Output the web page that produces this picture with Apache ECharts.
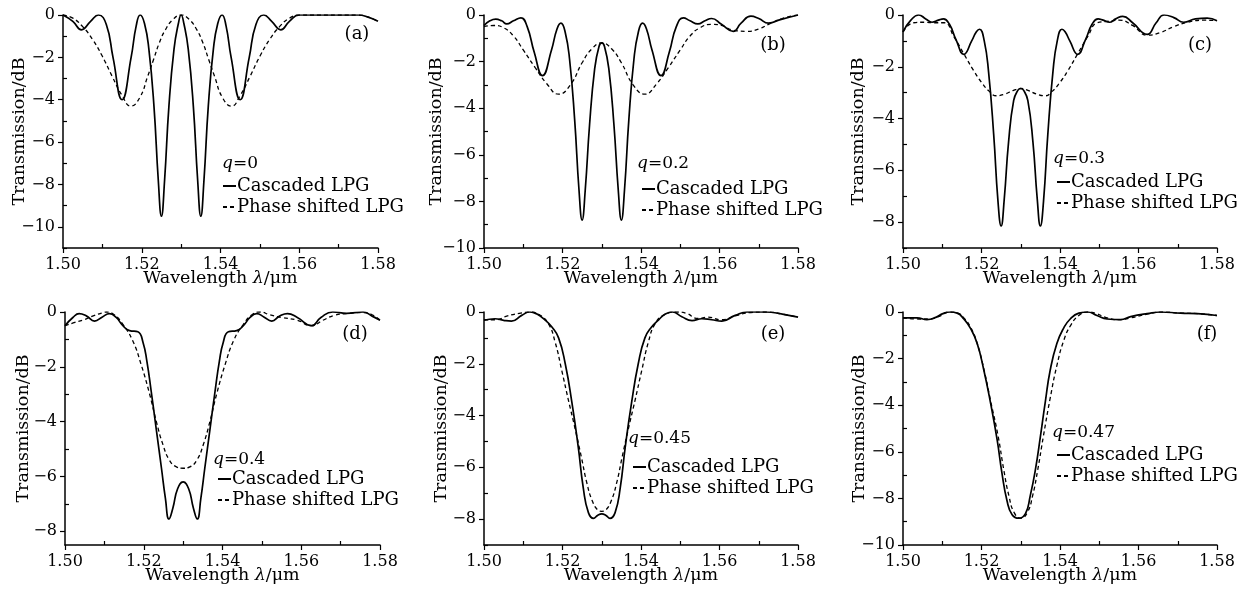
<!DOCTYPE html>
<html><head><meta charset="utf-8">
<script src="https://cdn.jsdelivr.net/npm/echarts@6/dist/echarts.min.js"></script>
<style>html,body{margin:0;padding:0;background:#fff}#c{width:1245px;height:597px}</style>
</head><body><div id="c"></div>
<script>
// ---------- data ----------
const xTicks = [1.50, 1.52, 1.54, 1.56, 1.58];
const xMinorTicks = [1.51, 1.53, 1.55, 1.57];
const panelLabels = ['(a)', '(b)', '(c)', '(d)', '(e)', '(f)'];
const qValues = ['0', '0.2', '0.3', '0.4', '0.45', '0.47'];
const yMins = [-11, -10, -9, -8.5, -9, -10];
const seriesNames = ['Cascaded LPG', 'Phase shifted LPG'];

const aCascaded = [[1.500,0],[1.5025,-0.3],[1.5047,-0.7],[1.507,-0.3],[1.509,0],[1.511,-0.45],[1.5127,-2.0],[1.515,-4.0],[1.5173,-2.0],[1.5186,-0.5],[1.5196,0],[1.5207,-0.4],[1.5218,-1.6],[1.5231,-4.3],[1.5242,-7.8],[1.525,-9.5],[1.5258,-7.8],[1.5269,-4.3],[1.5282,-1.6],[1.5293,-0.4],[1.530,0],[1.5307,-0.4],[1.5318,-1.6],[1.5331,-4.3],[1.5342,-7.8],[1.535,-9.5],[1.5358,-7.8],[1.5369,-4.3],[1.5382,-1.6],[1.5393,-0.4],[1.5404,0],[1.5414,-0.5],[1.5427,-2.0],[1.545,-4.0],[1.5473,-2.0],[1.549,-0.45],[1.551,0],[1.553,-0.3],[1.5553,-0.7],[1.5575,-0.3],[1.560,0],[1.565,0],[1.570,0],[1.575,0],[1.5775,-0.1],[1.580,-0.3]];
const aPhase = [[1.500,0],[1.5025,-0.15],[1.505,-0.55],[1.5075,-1.15],[1.510,-1.95],[1.5125,-2.9],[1.515,-3.8],[1.5172,-4.3],[1.5195,-3.9],[1.5215,-2.9],[1.523,-2.1],[1.5245,-1.3],[1.526,-0.7],[1.528,-0.2],[1.530,0],[1.532,-0.2],[1.534,-0.7],[1.5355,-1.3],[1.537,-2.1],[1.5385,-2.9],[1.5405,-3.9],[1.5428,-4.3],[1.545,-3.8],[1.5475,-2.9],[1.550,-1.95],[1.5525,-1.15],[1.555,-0.55],[1.5575,-0.15],[1.560,0],[1.575,0],[1.5775,-0.1],[1.580,-0.3]];

const bCascaded = [[1.500,-0.45],[1.5015,-0.25],[1.503,-0.18],[1.5045,-0.25],[1.5058,-0.38],[1.5075,-0.25],[1.5094,-0.12],[1.511,-0.5],[1.5128,-1.6],[1.5149,-2.6],[1.5172,-1.5],[1.5186,-0.6],[1.5196,-0.35],[1.5207,-0.75],[1.5218,-1.9],[1.5231,-4.5],[1.5242,-7.5],[1.525,-8.8],[1.5258,-7.5],[1.5269,-4.7],[1.5282,-2.3],[1.5293,-1.35],[1.530,-1.2],[1.5307,-1.35],[1.5318,-2.3],[1.5331,-4.7],[1.5342,-7.5],[1.535,-8.8],[1.5358,-7.5],[1.5369,-4.5],[1.5382,-1.9],[1.5393,-0.75],[1.5404,-0.35],[1.5414,-0.6],[1.5428,-1.5],[1.5451,-2.6],[1.5472,-1.6],[1.549,-0.5],[1.5508,-0.12],[1.5525,-0.25],[1.5545,-0.38],[1.5563,-0.25],[1.558,-0.15],[1.5605,-0.4],[1.5635,-0.7],[1.5655,-0.35],[1.568,-0.05],[1.570,-0.15],[1.5725,-0.35],[1.5755,-0.2],[1.580,0]];
const bPhase = [[1.500,-0.5],[1.5025,-0.45],[1.505,-0.55],[1.5075,-0.9],[1.510,-1.5],[1.513,-2.25],[1.516,-2.95],[1.519,-3.4],[1.522,-3.0],[1.525,-2.05],[1.5275,-1.45],[1.530,-1.2],[1.5325,-1.45],[1.535,-2.05],[1.538,-3.0],[1.541,-3.4],[1.544,-2.95],[1.547,-2.25],[1.550,-1.5],[1.5525,-0.9],[1.555,-0.55],[1.558,-0.4],[1.5605,-0.45],[1.5635,-0.65],[1.567,-0.7],[1.570,-0.6],[1.5725,-0.4],[1.576,-0.15],[1.580,0]];

const cCascaded = [[1.500,-0.65],[1.502,-0.2],[1.504,0],[1.5058,-0.15],[1.5074,-0.28],[1.509,-0.2],[1.5103,-0.15],[1.5118,-0.35],[1.5135,-0.95],[1.5155,-1.52],[1.5175,-1.0],[1.5187,-0.65],[1.5195,-0.55],[1.5207,-1.0],[1.5218,-2.2],[1.5231,-4.6],[1.5242,-7.2],[1.525,-8.15],[1.5258,-7.1],[1.5269,-4.9],[1.5282,-3.3],[1.5293,-2.9],[1.530,-2.84],[1.5307,-2.9],[1.5318,-3.3],[1.5331,-4.9],[1.5342,-7.1],[1.535,-8.15],[1.5358,-7.2],[1.5369,-4.6],[1.5382,-2.2],[1.5393,-1.0],[1.5405,-0.55],[1.5413,-0.65],[1.5425,-1.0],[1.5445,-1.52],[1.5465,-0.95],[1.5482,-0.35],[1.5497,-0.15],[1.551,-0.2],[1.5526,-0.28],[1.5542,-0.15],[1.556,-0.05],[1.5585,-0.3],[1.5622,-0.75],[1.5645,-0.3],[1.5665,0],[1.569,-0.1],[1.5715,-0.28],[1.5745,-0.15],[1.5775,-0.12],[1.580,-0.22]];
const cPhase = [[1.500,-0.65],[1.5027,-0.3],[1.5055,-0.28],[1.508,-0.3],[1.5105,-0.3],[1.513,-0.85],[1.5155,-1.5],[1.518,-2.15],[1.520,-2.6],[1.522,-2.95],[1.5238,-3.12],[1.526,-3.05],[1.528,-2.92],[1.530,-2.84],[1.532,-2.92],[1.534,-3.05],[1.5362,-3.12],[1.538,-2.95],[1.540,-2.6],[1.542,-2.15],[1.5445,-1.5],[1.547,-0.85],[1.5495,-0.3],[1.552,-0.25],[1.555,-0.2],[1.5585,-0.4],[1.5622,-0.78],[1.5655,-0.68],[1.569,-0.45],[1.5725,-0.28],[1.5765,-0.2],[1.580,-0.22]];

const dCascaded = [[1.500,-0.5],[1.502,-0.2],[1.5036,-0.06],[1.5055,-0.15],[1.5075,-0.33],[1.5095,-0.18],[1.5113,-0.06],[1.513,-0.2],[1.5147,-0.5],[1.5164,-0.68],[1.5185,-0.72],[1.5198,-1.1],[1.5208,-1.8],[1.5219,-2.9],[1.5232,-4.3],[1.5245,-5.7],[1.5255,-6.8],[1.5264,-7.55],[1.5274,-7.15],[1.5286,-6.45],[1.530,-6.2],[1.5314,-6.45],[1.5326,-7.15],[1.5336,-7.55],[1.5345,-6.8],[1.5355,-5.7],[1.5368,-4.3],[1.5381,-2.9],[1.5392,-1.8],[1.5402,-1.1],[1.5415,-0.72],[1.5436,-0.68],[1.5453,-0.5],[1.547,-0.2],[1.5487,-0.06],[1.5505,-0.18],[1.5525,-0.33],[1.5545,-0.15],[1.5565,-0.06],[1.559,-0.2],[1.5626,-0.5],[1.565,-0.2],[1.568,0],[1.5715,-0.05],[1.5757,0],[1.578,-0.15],[1.580,-0.3]];
const dPhase = [[1.500,-0.5],[1.5025,-0.38],[1.5045,-0.3],[1.507,-0.15],[1.5095,-0.03],[1.5105,0],[1.5125,-0.1],[1.5147,-0.45],[1.5172,-1.05],[1.5193,-1.9],[1.5215,-3.0],[1.5232,-4.0],[1.5249,-4.85],[1.5265,-5.4],[1.5283,-5.65],[1.530,-5.7],[1.5317,-5.65],[1.5335,-5.4],[1.5351,-4.85],[1.5368,-4.0],[1.5385,-3.0],[1.5407,-1.9],[1.5428,-1.05],[1.5453,-0.45],[1.5475,-0.1],[1.5495,0],[1.552,-0.1],[1.555,-0.2],[1.559,-0.3],[1.5626,-0.5],[1.5655,-0.3],[1.5685,-0.12],[1.572,-0.05],[1.5757,-0.02],[1.578,-0.1],[1.580,-0.3]];

const eCascaded = [[1.500,-0.32],[1.5028,-0.26],[1.505,-0.32],[1.507,-0.35],[1.5096,-0.13],[1.5117,0],[1.5135,-0.08],[1.5155,-0.3],[1.5173,-0.58],[1.519,-1.0],[1.5207,-2.0],[1.5224,-3.5],[1.524,-5.2],[1.5253,-6.8],[1.5266,-7.75],[1.5279,-7.97],[1.529,-7.85],[1.530,-7.8],[1.531,-7.85],[1.5321,-7.97],[1.5334,-7.75],[1.5347,-6.8],[1.536,-5.2],[1.5376,-3.5],[1.5393,-2.0],[1.541,-1.0],[1.5427,-0.58],[1.5445,-0.3],[1.5462,-0.08],[1.548,0],[1.5504,-0.18],[1.553,-0.33],[1.5555,-0.26],[1.558,-0.3],[1.5606,-0.35],[1.564,-0.13],[1.567,0],[1.5717,0],[1.576,-0.08],[1.580,-0.2]];
const ePhase = [[1.500,-0.3],[1.503,-0.3],[1.506,-0.15],[1.509,-0.05],[1.5117,0],[1.514,-0.1],[1.5164,-0.45],[1.5181,-1.15],[1.5198,-2.25],[1.5215,-3.4],[1.5232,-4.5],[1.5248,-5.6],[1.5262,-6.6],[1.5276,-7.3],[1.529,-7.65],[1.530,-7.7],[1.531,-7.65],[1.5324,-7.3],[1.5338,-6.6],[1.5352,-5.6],[1.5368,-4.5],[1.5385,-3.4],[1.5402,-2.25],[1.5419,-1.15],[1.5436,-0.45],[1.546,-0.1],[1.549,0],[1.5515,-0.05],[1.5545,-0.25],[1.557,-0.2],[1.5605,-0.3],[1.564,-0.15],[1.568,-0.02],[1.572,0],[1.576,-0.08],[1.580,-0.2]];

const fCascaded = [[1.500,-0.25],[1.5036,-0.25],[1.5061,-0.33],[1.5085,-0.22],[1.510,-0.08],[1.512,0],[1.5138,-0.05],[1.5155,-0.3],[1.5172,-0.7],[1.5189,-1.35],[1.5206,-2.5],[1.5223,-3.9],[1.524,-5.5],[1.5252,-6.9],[1.5265,-8.1],[1.5278,-8.7],[1.5295,-8.85],[1.5312,-8.65],[1.5324,-7.9],[1.5337,-6.8],[1.535,-5.35],[1.5363,-3.8],[1.5375,-2.5],[1.5392,-1.35],[1.5409,-0.7],[1.5426,-0.3],[1.5448,-0.05],[1.547,0],[1.5494,-0.15],[1.552,-0.3],[1.5554,-0.33],[1.558,-0.2],[1.5622,-0.07],[1.5656,0],[1.5707,-0.05],[1.575,-0.07],[1.580,-0.15]];
const fPhase = [[1.500,-0.25],[1.504,-0.3],[1.507,-0.3],[1.509,-0.2],[1.512,0],[1.514,-0.05],[1.5155,-0.25],[1.5172,-0.65],[1.5189,-1.35],[1.5206,-2.45],[1.5223,-3.8],[1.5242,-5.3],[1.5257,-6.8],[1.527,-7.9],[1.5283,-8.6],[1.530,-8.85],[1.5317,-8.6],[1.533,-7.9],[1.5343,-6.8],[1.5358,-5.3],[1.5375,-3.7],[1.5392,-2.3],[1.541,-1.2],[1.5428,-0.55],[1.5448,-0.15],[1.547,0],[1.549,-0.05],[1.552,-0.25],[1.555,-0.33],[1.558,-0.25],[1.562,-0.1],[1.566,0],[1.571,-0.05],[1.575,-0.07],[1.580,-0.15]];

const cascadedData = [aCascaded, bCascaded, cCascaded, dCascaded, eCascaded, fCascaded];
const phaseData = [aPhase, bPhase, cPhase, dPhase, ePhase, fPhase];

// ---------- layout ----------
const FONT = 'DejaVu Serif';
const grids = [
  {left: 63, top: 15, width: 315, height: 233},
  {left: 484, top: 15, width: 314, height: 233},
  {left: 903, top: 15, width: 314, height: 233},
  {left: 65, top: 312, width: 315, height: 233},
  {left: 484, top: 312, width: 314, height: 233},
  {left: 903, top: 312, width: 314, height: 233}
];
const yNameGaps = [35, 39, 36, 33, 34, 35];
const qPos = [[222,165],[637,165],[1053,160],[213,461],[628,440],[1052,434]];
const legPos = [[222,176],[641,179],[1056,172],[217,469],[632,457],[1056,445]];
const labelPos = [[357,34],[773,45],[1200,45],[355,334],[773,334],[1207,334]];

const fmtY = v => (v < 0 ? '\u2212' : '') + Math.abs(v);
const xAxes = [], yAxes = [], series = [], legends = [], graphics = [];

grids.forEach((g, i) => {
  const yMin = yMins[i];
  const yMajor = [], yMinor = [];
  for (let v = 0; v >= yMin; v -= 1) { (Math.abs(v) % 2 === 0 ? yMajor : yMinor).push(v); }
  xAxes.push({
    gridIndex: i, type: 'value', min: 1.50, max: 1.58, position: 'bottom',
    axisLine: {show: true, onZero: false, lineStyle: {color: '#000', width: 1.5}},
    axisTick: {show: true, inside: false, length: 5, customValues: xTicks, lineStyle: {color: '#000', width: 1.2}},
    axisLabel: {show: true, customValues: xTicks, formatter: v => v.toFixed(2), color: '#000', fontFamily: FONT, fontSize: 16, margin: 9},
    splitLine: {show: false},
    name: '{n|Wavelength }{i|\u03bb}{n|/\u03bcm}', nameLocation: 'middle', nameGap: 21, nameMoveOverlap: false,
    nameTextStyle: {color: '#000', fontFamily: FONT, fontSize: 17.5,
      rich: {n: {fontFamily: FONT, fontSize: 17.5, color: '#000'}, i: {fontFamily: FONT, fontSize: 17.5, fontStyle: 'italic', color: '#000'}}}
  });
  xAxes.push({
    gridIndex: i, type: 'value', min: 1.50, max: 1.58, position: 'bottom',
    axisLine: {show: false, onZero: false},
    axisTick: {show: true, inside: true, length: 4, customValues: xMinorTicks, lineStyle: {color: '#000', width: 1.2}},
    axisLabel: {show: false}, splitLine: {show: false}
  });
  yAxes.push({
    gridIndex: i, type: 'value', min: yMin, max: 0, position: 'left',
    axisLine: {show: true, onZero: false, lineStyle: {color: '#000', width: 1.5}},
    axisTick: {show: true, inside: false, length: 5, customValues: yMajor, lineStyle: {color: '#000', width: 1.2}},
    axisLabel: {show: true, customValues: yMajor, formatter: fmtY, color: '#000', fontFamily: FONT, fontSize: 16, margin: 8},
    splitLine: {show: false},
    name: 'Transmission/dB', nameLocation: 'middle', nameGap: yNameGaps[i], nameMoveOverlap: false,
    nameTextStyle: {color: '#000', fontFamily: FONT, fontSize: 17.5}
  });
  yAxes.push({
    gridIndex: i, type: 'value', min: yMin, max: 0, position: 'left', offset: 0,
    axisLine: {show: false, onZero: false},
    axisTick: {show: true, inside: true, length: 4, customValues: yMinor, lineStyle: {color: '#000', width: 1.2}},
    axisLabel: {show: false}, splitLine: {show: false}
  });
  series.push({
    name: seriesNames[0], type: 'line', xAxisIndex: 2 * i, yAxisIndex: 2 * i,
    data: cascadedData[i], symbol: 'none', smooth: 0.5,
    lineStyle: {color: '#000', width: 1.7, type: 'solid'}, itemStyle: {color: '#000'},
    animation: false, silent: true
  });
  series.push({
    name: seriesNames[1], type: 'line', xAxisIndex: 2 * i, yAxisIndex: 2 * i,
    data: phaseData[i], symbol: 'none', smooth: 0.5,
    lineStyle: {color: '#000', width: 1.3, type: [4, 3]}, itemStyle: {color: '#000'},
    animation: false, silent: true
  });
  legends.push({
    left: legPos[i][0], top: legPos[i][1], orient: 'vertical',
    itemWidth: 13, itemHeight: 10, itemGap: 1, selectedMode: false,
    data: seriesNames, padding: 0,
    itemStyle: {opacity: 0},
    textStyle: {color: '#000', fontFamily: FONT, fontSize: 18, lineHeight: 20, padding: [0, 0, 0, -4]}
  });
  graphics.push({
    type: 'text', left: qPos[i][0], top: qPos[i][1] - 10,
    style: {text: '{i|q}=' + qValues[i], fill: '#000', font: '17px "' + FONT + '"',
      rich: {i: {fontStyle: 'italic', fontFamily: FONT, fontSize: 17, fill: '#000'}}}
  });
  graphics.push({
    type: 'text', x: labelPos[i][0], y: labelPos[i][1],
    style: {text: panelLabels[i], fill: '#000', font: '18px "' + FONT + '"', align: 'center', verticalAlign: 'middle'}
  });
});

const chart = echarts.init(document.getElementById('c'), null, {renderer: 'canvas'});
chart.setOption({
  animation: false,
  backgroundColor: '#fff',
  grid: grids,
  xAxis: xAxes,
  yAxis: yAxes,
  legend: legends,
  series: series,
  graphic: graphics
});
</script></body></html>
